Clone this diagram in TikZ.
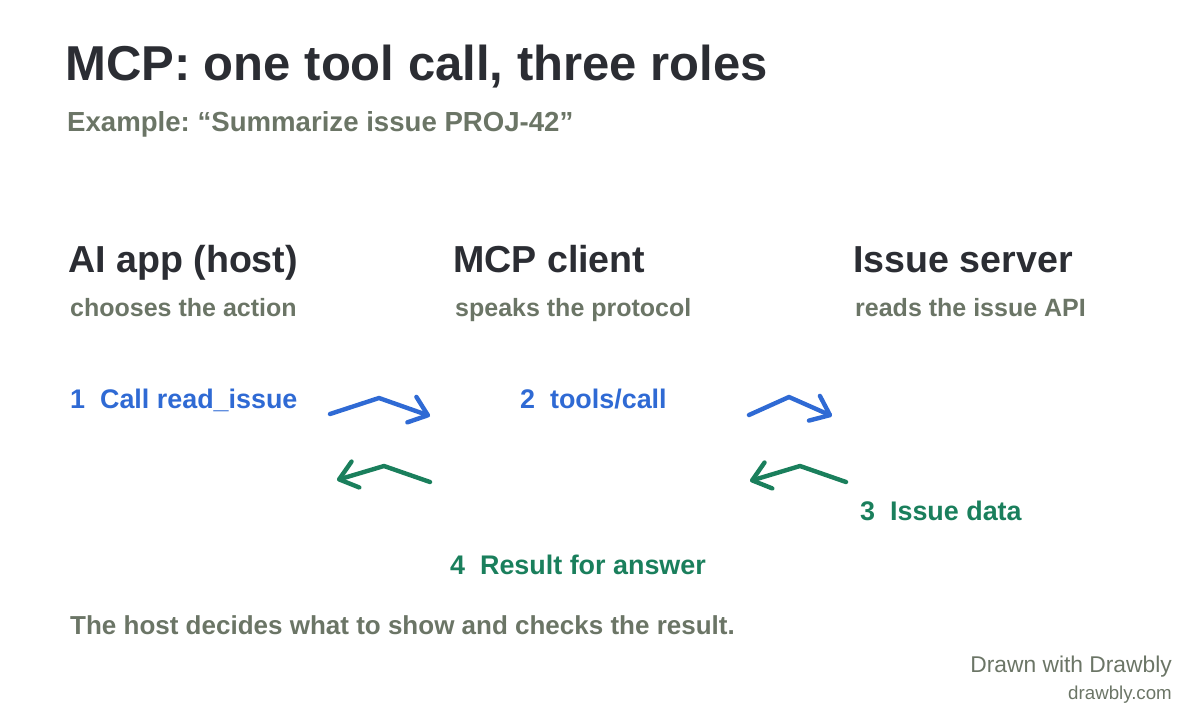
\documentclass[tikz,border=0pt]{standalone}
\usepackage{fontspec}
\setmainfont{Liberation Sans}
\usepackage{xcolor}
\usetikzlibrary{arrows.meta}
\frenchspacing

\definecolor{inkdark}{HTML}{2B2D33}
\definecolor{inkgrey}{HTML}{6B7566}
\definecolor{callblue}{HTML}{2F6AD4}
\definecolor{backgreen}{HTML}{1A7F5C}

\tikzset{
  title/.style={anchor=base west, inner sep=0pt, text=inkdark, font=\fontsize{49}{52}\selectfont\bfseries},
  role/.style={anchor=base west, inner sep=0pt, text=inkdark, font=\fontsize{37.6}{40}\selectfont\bfseries},
  note/.style={anchor=base west, inner sep=0pt, text=inkgrey, font=\fontsize{25}{28}\selectfont\bfseries},
  stepcall/.style={anchor=base west, inner sep=0pt, text=callblue, font=\fontsize{26.9}{30}\selectfont\bfseries},
  stepback/.style={anchor=base west, inner sep=0pt, text=backgreen, font=\fontsize{26.9}{30}\selectfont\bfseries},
  credit/.style={anchor=base east, inner sep=0pt, text=inkgrey},
  flow/.style={line width=4.4pt, line cap=round, line join=round,
    -{Straight Barb[length=17pt, width=27pt, line width=4.4pt, round]}},
}

\begin{document}
\begin{tikzpicture}[x=1pt, y=-1pt]
  \useasboundingbox (0,0) rectangle (1200,720);
  % heading
  \node[title] (head) at (65,80) {MCP: one tool call, three roles};
  \node[note, font=\fontsize{27.6}{30}\selectfont\bfseries] (example) at (67,131) {Example: “Summarize issue PROJ-42”};
  % the three roles
  \node[role] (host) at (68,272) {AI app (host)};
  \node[role] (client) at (453,272) {MCP client};
  \node[role] (server) at (853,272) {Issue server};
  \node[note] (hostnote) at (70,316) {chooses the action};
  \node[note] (clientnote) at (455,316) {speaks the protocol};
  \node[note] (servernote) at (855,316) {reads the issue API};
  % steps
  \node[stepcall] (call) at (70,408) {1\ \ Call read\_issue};
  \node[stepcall] (tools) at (520,408) {2\ \ tools/call};
  \node[stepback] (data) at (860,520) {3\ \ Issue data};
  \node[stepback] (result) at (450,574) {4\ \ Result for answer};
  % arrow ends
  \coordinate (c1a) at (330,414);
  \coordinate (c1b) at (430,416);
  \coordinate (c2a) at (749,415);
  \coordinate (c2b) at (832,416);
  \coordinate (r2a) at (846,482);
  \coordinate (r2b) at (750,481);
  \coordinate (r1a) at (430,482);
  \coordinate (r1b) at (337,480);
  \draw[flow, callblue] (c1a) -- (379,398) -- (c1b);
  \draw[flow, callblue] (c2a) -- (789,397) -- (c2b);
  \draw[flow, backgreen] (r2a) -- (800,466) -- (r2b);
  \draw[flow, backgreen] (r1a) -- (384,466) -- (r1b);
  % footer
  \node[note, font=\fontsize{26}{28}\selectfont\bfseries] (summary) at (70,634) {The host decides what to show and checks the result.};
  \node[credit, font=\fontsize{22.8}{26}\selectfont] (drawn) at (1172,672) {Drawn with Drawbly};
  \node[credit, font=\fontsize{18.7}{22}\selectfont] (site) at (1172,699) {drawbly.com};
\end{tikzpicture}
\end{document}
